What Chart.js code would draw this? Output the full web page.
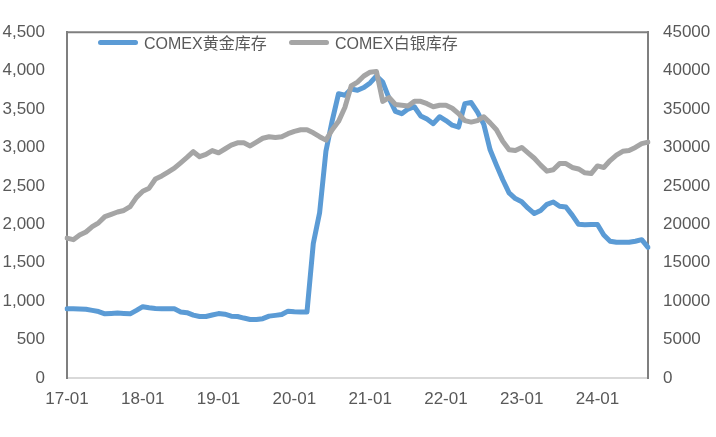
<!DOCTYPE html>
<html>
<head>
<meta charset="utf-8">
<script src="https://cdn.jsdelivr.net/npm/chart.js@4.4.0/dist/chart.umd.min.js"></script>
<style>
  html, body { margin: 0; padding: 0; background: #fff; }
  #wrap { position: relative; width: 716px; height: 437px; }
  #chart { display: block; }
  .legend-item {
    position: absolute;
    top: 33px;
    height: 18px;
    display: flex;
    align-items: center;
    font: 16px "Liberation Sans", "Noto Sans CJK SC", sans-serif;
    color: #595959;
    white-space: nowrap;
  }
  .legend-line {
    display: inline-block;
    width: 40px;
    height: 5px;
    border-radius: 3px;
    margin-right: 6px;
  }
</style>
</head>
<body>
<div id="wrap">
  <canvas id="chart" width="716" height="437"></canvas>
</div>
<script>
'use strict';

// monthly points, 2017-01 .. 2024-09
const months = [
    '17-01', '17-02', '17-03', '17-04', '17-05', '17-06', '17-07', '17-08', '17-09', '17-10', '17-11', '17-12',
    '18-01', '18-02', '18-03', '18-04', '18-05', '18-06', '18-07', '18-08', '18-09', '18-10', '18-11', '18-12',
    '19-01', '19-02', '19-03', '19-04', '19-05', '19-06', '19-07', '19-08', '19-09', '19-10', '19-11', '19-12',
    '20-01', '20-02', '20-03', '20-04', '20-05', '20-06', '20-07', '20-08', '20-09', '20-10', '20-11', '20-12',
    '21-01', '21-02', '21-03', '21-04', '21-05', '21-06', '21-07', '21-08', '21-09', '21-10', '21-11', '21-12',
    '22-01', '22-02', '22-03', '22-04', '22-05', '22-06', '22-07', '22-08', '22-09', '22-10', '22-11', '22-12',
    '23-01', '23-02', '23-03', '23-04', '23-05', '23-06', '23-07', '23-08', '23-09', '23-10', '23-11', '23-12',
    '24-01', '24-02', '24-03', '24-04', '24-05', '24-06', '24-07', '24-08', '24-09'
];

const goldStock = [
    900, 900, 898, 895, 880, 865, 835, 840, 845, 840, 835, 880,
    928, 915, 905, 900, 900, 900, 860, 850, 818, 800, 800, 820,
    838, 830, 805, 800, 780, 762, 762, 772, 805, 815, 826, 870,
    862, 860, 860, 1750, 2150, 2950, 3350, 3700, 3680, 3760, 3745, 3780,
    3840, 3930, 3850, 3640, 3470, 3440, 3500, 3530, 3410, 3370, 3310, 3400,
    3350, 3290, 3265, 3570, 3585, 3460, 3300, 2970, 2770, 2580, 2410, 2335,
    2295, 2210, 2140, 2180, 2260, 2290, 2235, 2225, 2120, 2000, 1995, 1997,
    1997, 1860, 1780, 1766, 1766, 1766, 1780, 1800, 1700
];

const silverStock = [
    18200, 18000, 18600, 19000, 19700, 20200, 21000, 21300, 21600, 21800, 22300, 23500,
    24300, 24700, 25900, 26300, 26800, 27300, 28000, 28700, 29450, 28800, 29100, 29600,
    29300, 29800, 30300, 30600, 30600, 30200, 30700, 31200, 31400, 31300, 31400, 31800,
    32100, 32300, 32300, 31900, 31400, 30950, 32300, 33400, 35200, 38000, 38500, 39300,
    39800, 39900, 36000, 36500, 35600, 35500, 35400, 36000, 36000, 35700, 35300, 35500,
    35500, 35100, 34400, 33500, 33300, 33500, 34000, 33200, 32300, 30800, 29700, 29600,
    30000, 29300, 28600, 27700, 26920, 27100, 27900, 27900, 27400, 27200, 26700, 26600,
    27600, 27400, 28300, 29000, 29500, 29600, 30000, 30500, 30700
];

const seriesNames = ['COMEX黄金库存', 'COMEX白银库存'];
const seriesColors = ['#5b9bd5', '#a5a5a5'];
const legendLeft = [98, 289];

const TEXT_COLOR = '#595959';
const FONT_FAMILY = '"Liberation Sans", "Noto Sans CJK SC", sans-serif';

// frame line along the top of the plot area
const framePlugin = {
    id: 'frame',
    afterDraw(chart) {
        const {ctx, chartArea} = chart;
        ctx.save();
        ctx.strokeStyle = '#7f7f7f';
        ctx.lineWidth = 2;
        ctx.beginPath();
        ctx.moveTo(chartArea.left - 1, chartArea.top);
        ctx.lineTo(chartArea.right + 1, chartArea.top);
        ctx.stroke();
        ctx.restore();
    }
};

const chart = new Chart(document.getElementById('chart'), {
    type: 'line',
    data: {
        labels: months,
        datasets: [
            {
                label: seriesNames[0],
                data: goldStock,
                yAxisID: 'y',
                borderColor: seriesColors[0],
                backgroundColor: seriesColors[0],
                borderWidth: 5,
                borderCapStyle: 'round',
                borderJoinStyle: 'round',
                pointRadius: 0,
                tension: 0,
                order: 1
            },
            {
                label: seriesNames[1],
                data: silverStock,
                yAxisID: 'y1',
                borderColor: seriesColors[1],
                backgroundColor: seriesColors[1],
                borderWidth: 5,
                borderCapStyle: 'round',
                borderJoinStyle: 'round',
                pointRadius: 0,
                tension: 0,
                order: 0
            }
        ]
    },
    options: {
        responsive: false,
        animation: false,
        devicePixelRatio: 1,
        layout: { padding: { top: 22, left: 0, right: 0, bottom: 0 } },
        plugins: {
            tooltip: { enabled: false },
            legend: { display: false }
        },
        scales: {
            x: {
                type: 'category',
                offset: false,
                grid: { display: false, drawTicks: false },
                border: { display: true, color: '#d9d9d9', width: 2 },
                ticks: {
                    autoSkip: false,
                    maxRotation: 0,
                    padding: 11,
                    color: TEXT_COLOR,
                    font: { family: FONT_FAMILY, size: 17 },
                    callback: function (value, index) {
                        return index % 12 === 0 ? months[index] : null;
                    }
                },
                afterFit: (scale) => { scale.height = 59; }
            },
            y: {
                position: 'left',
                min: 0,
                max: 4500,
                grid: { display: false, drawTicks: false },
                border: { display: true, color: '#7f7f7f', width: 2 },
                ticks: {
                    stepSize: 500,
                    padding: 22,
                    color: TEXT_COLOR,
                    font: { family: FONT_FAMILY, size: 17 },
                    callback: (value) => value.toLocaleString('en-US')
                },
                afterFit: (scale) => { scale.width = 67; }
            },
            y1: {
                position: 'right',
                min: 0,
                max: 45000,
                grid: { display: false, drawTicks: false },
                border: { display: true, color: '#7f7f7f', width: 2 },
                ticks: {
                    stepSize: 5000,
                    padding: 15,
                    color: TEXT_COLOR,
                    font: { family: FONT_FAMILY, size: 17 },
                    callback: (value) => String(value)
                },
                afterFit: (scale) => { scale.width = 68; }
            }
        }
    },
    plugins: [framePlugin]
});

// legend drawn inside the plot area, in dataset order
const wrap = document.getElementById('wrap');
chart.data.datasets.forEach((ds, i) => {
    const item = document.createElement('div');
    item.setAttribute('class', 'legend-item');
    item.style.left = legendLeft[i] + 'px';
    const line = document.createElement('span');
    line.setAttribute('class', 'legend-line');
    line.style.background = ds.borderColor;
    const text = document.createElement('span');
    text.textContent = ds.label;
    item.appendChild(line);
    item.appendChild(text);
    wrap.appendChild(item);
});
</script>
</body>
</html>
